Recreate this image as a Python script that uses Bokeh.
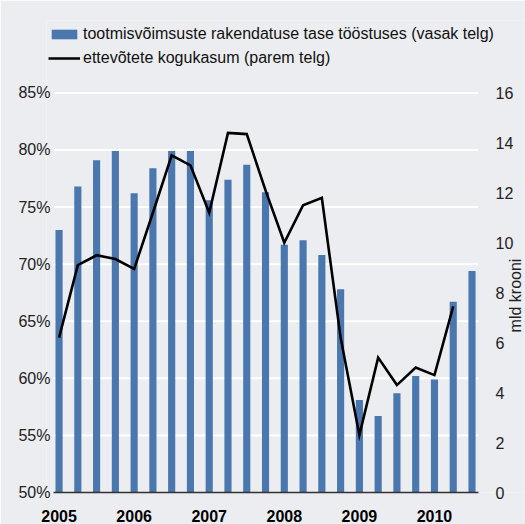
import math
from bokeh.plotting import figure
from bokeh.models import (Range1d, LinearAxis, FixedTicker, PrintfTickFormatter,
                          Legend, LegendItem, ColumnDataSource, Label)
from bokeh.embed import file_html
from bokeh.resources import INLINE

# ---- data ----
quarters = ["2005Q1", "2005Q2", "2005Q3", "2005Q4",
            "2006Q1", "2006Q2", "2006Q3", "2006Q4",
            "2007Q1", "2007Q2", "2007Q3", "2007Q4",
            "2008Q1", "2008Q2", "2008Q3", "2008Q4",
            "2009Q1", "2009Q2", "2009Q3", "2009Q4",
            "2010Q1", "2010Q2", "2010Q3"]
utilization = [73.0, 76.8, 79.1, 79.9, 76.2, 78.4, 79.9, 79.9,
               75.6, 77.4, 78.7, 76.3, 71.7, 72.1, 70.8, 67.8,
               58.1, 56.7, 58.7, 60.2, 59.9, 66.7, 69.4]
profit = [6.2, 9.1, 9.5, 9.35, 8.95, 11.2, 13.5, 13.1,
          11.2, 14.4, 14.35, 12.1, 10.0, 11.5, 11.8, 6.2,
          2.3, 5.4, 4.3, 5.0, 4.7, 7.45]
year_labels = ["2005", "2006", "2007", "2008", "2009", "2010"]
left_ticks = [50, 55, 60, 65, 70, 75, 80, 85]
right_ticks = [0, 2, 4, 6, 8, 10, 12, 14, 16]
bar_label = "tootmisvõimsuste rakendatuse tase tööstuses (vasak telg)"
line_label = "ettevõtete kogukasum (parem telg)"
right_axis_label = "mld krooni"

BG = "#ECEDF0"
BAR = "#4A77AD"
FONT = "Liberation Sans"

# ---- layout (pixels) ----
W, H = 525, 524
B_LEFT, B_RIGHT, B_TOP, B_BOTTOM = 46, 0, 20, 30
PANEL_L, PANEL_R = 53.3, 477.7      # visible plot panel (gridlines / baseline)
PANEL_TOP = 92.7                    # pixel row of the top tick
RIGHT_TICK_X = 488.6                # left edge of the right tick labels
RIGHT_LABEL_X, RIGHT_LABEL_Y = 515, 297
frame_w = W - B_LEFT - B_RIGHT
frame_h = H - B_TOP - B_BOTTOM
frame_bottom = H - B_BOTTOM
frame_right = W - B_RIGHT

# x: visible plot panel spans these data values
PX0, PX1 = -0.28, 22.33
ppu_x = (PANEL_R - PANEL_L) / (PX1 - PX0)
x_start = PX0 - (PANEL_L - B_LEFT) / ppu_x
x_end = x_start + frame_w / ppu_x

# y: tick span maps to (frame_bottom - PANEL_TOP) pixels
lo, hi = left_ticks[0], left_ticks[-1]
rlo, rhi = right_ticks[0], right_ticks[-1]
span_px = frame_bottom - PANEL_TOP
y_end = lo + (hi - lo) * frame_h / span_px
ry_end = rlo + (rhi - rlo) * frame_h / span_px

x_bar = list(range(len(quarters)))
x_line = x_bar[:len(profit)]
year_pos = [quarters.index(y + "Q1") for y in year_labels]

bar_src = ColumnDataSource(dict(x=x_bar, q=quarters, v=utilization))
line_src = ColumnDataSource(dict(x=x_line, q=quarters[:len(profit)], v=profit))
grid_src = ColumnDataSource(dict(y=left_ticks[1:],
                                 x0=[PX0] * (len(left_ticks) - 1),
                                 x1=[PX1] * (len(left_ticks) - 1)))

p = figure(width=W, height=H, output_backend="svg", toolbar_location=None,
           x_range=Range1d(x_start, x_end), y_range=Range1d(lo, y_end),
           min_border_left=B_LEFT, min_border_right=B_RIGHT,
           min_border_top=B_TOP, min_border_bottom=B_BOTTOM)
p.extra_y_ranges = {"right": Range1d(rlo, ry_end)}

p.background_fill_color = BG
p.border_fill_color = BG
p.outline_line_color = None
p.xgrid.visible = False
p.ygrid.visible = False

# gridlines limited to the plot panel
p.segment(x0="x0", x1="x1", y0="y", y1="y", source=grid_src,
          line_color="white", line_width=2)

bars = p.vbar(x="x", top="v", bottom=lo, width=0.38, source=bar_src,
              fill_color=BAR, line_color=None)
line = p.line(x="x", y="v", source=line_src, y_range_name="right",
              line_color="black", line_width=2.6, line_join="miter")

# left axis
la = p.yaxis[0]
la.ticker = FixedTicker(ticks=left_ticks)
la.formatter = PrintfTickFormatter(format="%d%%")
la.axis_line_color = None
la.major_tick_line_color = None
la.minor_tick_line_color = None
la.major_label_standoff = -10
la.major_label_text_font = FONT
la.major_label_text_font_size = "16px"
la.major_label_text_color = "#222222"

# bottom axis
ba = p.xaxis[0]
ba.bounds = (PX0, PX1)
ba.ticker = FixedTicker(ticks=year_pos)
ba.major_label_overrides = {pos: lab for pos, lab in zip(year_pos, year_labels)}
ba.axis_line_color = "#333333"
ba.axis_line_width = 1.5
ba.major_tick_line_color = None
ba.minor_tick_line_color = None
ba.major_label_standoff = 11
ba.major_label_text_font = FONT
ba.major_label_text_font_size = "16px"
ba.major_label_text_font_style = "bold"
ba.major_label_text_color = "black"

# right axis
ra = LinearAxis(y_range_name="right", ticker=FixedTicker(ticks=right_ticks))
ra.axis_line_color = None
ra.major_tick_line_color = None
ra.minor_tick_line_color = None
ra.major_label_standoff = round(RIGHT_TICK_X - frame_right)
ra.major_label_text_font = FONT
ra.major_label_text_font_size = "16px"
ra.major_label_text_color = "#222222"
p.add_layout(ra, "right")

# right axis title, reading bottom-to-top
p.add_layout(Label(x=RIGHT_LABEL_X - B_LEFT, y=frame_bottom - RIGHT_LABEL_Y,
                   x_units="screen", y_units="screen", text=right_axis_label,
                   angle=math.pi / 2, text_align="center", text_baseline="middle",
                   text_font=FONT, text_font_size="16px", text_color="#222222"))

legend = Legend(items=[LegendItem(label=bar_label, renderers=[bars]),
                       LegendItem(label=line_label, renderers=[line])],
                location=(2, frame_bottom - 70), orientation="vertical",
                padding=0, margin=0, spacing=4,
                glyph_width=32, glyph_height=12, label_height=20,
                label_standoff=3,
                label_text_font=FONT, label_text_font_size="16px",
                label_text_color="#111111",
                background_fill_alpha=0, border_line_color=None)
p.add_layout(legend, "center")

open("out.html", "w").write(file_html(p, INLINE))
